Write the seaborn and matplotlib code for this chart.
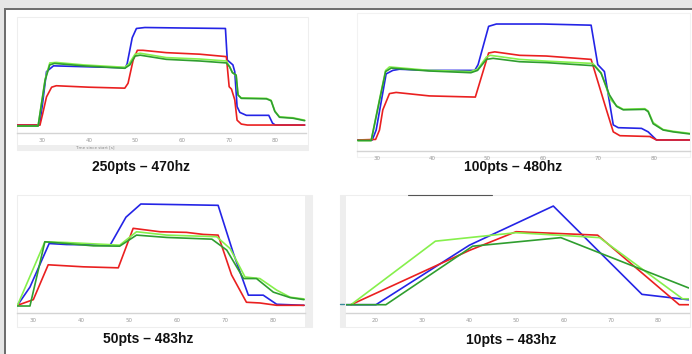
import matplotlib
matplotlib.use("Agg")
import matplotlib.pyplot as plt
from matplotlib.patches import Rectangle
import pandas as pd
import seaborn as sns

sns.set_style("white")

# series: (time [s], level)
p1_blue = [(24.6, 0), (29.4, 0), (30.0, 20), (30.9, 55), (32.4, 61), (40, 60), (47.8, 59), (48.2, 63), (49.3, 90),
           (50.2, 99.5), (52, 100.5), (60, 100), (69.3, 99.5), (69.7, 67), (70.9, 62), (71.3, 55), (71.8, 19),
           (72.4, 13), (73.8, 10), (78.6, 10), (79.4, 2), (80, 0), (86.3, 0)]
p1_red = [(24.6, 0), (29.5, 0), (30.1, 12), (30.9, 29), (32.0, 39), (33, 40.5), (40, 39), (47.7, 38), (48.4, 43),
          (49.5, 67), (50.4, 77), (51.6, 77), (56.6, 74.6), (63.8, 73), (69.5, 70.5), (70.1, 39.5), (70.6, 37),
          (71.3, 26), (71.8, 5), (72.7, 1), (74, 0), (86.3, 0)]
p1_lgreen = [(24.6, -1), (29.1, -1), (30.6, 47), (31.6, 64), (33, 64.5), (38.8, 62), (47.7, 59.5), (48.6, 63),
             (49.9, 73), (51, 74), (56.6, 69.5), (63.8, 68), (69.5, 66), (70.2, 60), (70.8, 54), (71.6, 51),
             (72, 31), (72.7, 28), (78.1, 27.5), (79.1, 25.5), (79.9, 14.5), (80.9, 8.5), (83.8, 7.5), (86.3, 5)]
p1_dgreen = [(24.6, -1), (29.1, -1), (30.6, 46), (31.6, 62), (32.6, 63.5), (38.8, 61), (47.7, 58.5), (48.8, 62),
             (49.9, 71), (51, 72), (56.6, 67.7), (63.8, 66), (69.5, 64), (70.2, 60), (70.8, 54), (71.6, 51.5),
             (72, 31), (72.7, 27.5), (78.1, 27), (79.1, 25), (79.9, 14), (80.9, 8), (83.8, 7), (86.3, 4.5)]

p2_blue = [(26.6, 0), (29.2, 0), (29.9, 8.6), (31.7, 57), (32.9, 60), (34.1, 61), (39.5, 60), (47.7, 60), (48.3, 65),
           (50.2, 98), (51.6, 100), (60, 100), (68.7, 99), (69.9, 65), (71.1, 59), (72.7, 13), (73.6, 10.6),
           (77.8, 10), (79, 7), (80.5, 0), (86.5, 0)]
p2_red = [(26.6, 0), (29.8, 0.5), (30.5, 8.6), (31.1, 26), (32.3, 40), (33.5, 41), (39.5, 38), (47.8, 37),
          (50.2, 75), (51.3, 76), (55.8, 73), (60.6, 72.4), (68.7, 69.5), (71.4, 27), (72.7, 7), (73.9, 3.7),
          (79.3, 3), (80.5, 0), (86.5, 0)]
p2_lgreen = [(26.6, -0.5), (29, -0.5), (30.5, 35), (31.6, 60), (32.3, 63), (39.5, 60), (47, 59), (48.2, 61),
             (49.8, 71.5), (50.5, 73), (55.8, 69.5), (60.6, 68), (69, 66), (70.5, 58), (72.2, 35), (73.3, 29.5),
             (74.5, 26.5), (78.4, 27), (79, 25), (79.9, 15), (81.7, 9), (83.5, 7.5), (86.5, 5.7)]
p2_dgreen = [(26.6, -0.5), (29, -0.5), (30.5, 34), (31.6, 59), (32.6, 62), (39.5, 59.5), (47, 58), (48.2, 60),
             (49.8, 69.5), (51, 70.4), (55.8, 67.5), (60.6, 66.7), (69.3, 64), (70.5, 57.5), (72, 39), (73.3, 29),
             (74.5, 26), (78.4, 26.4), (79, 24.4), (79.9, 14), (81.7, 8.6), (83.5, 7), (86.5, 5.2)]

p3_blue = [(26.7, 0), (29.3, 18), (33.3, 61), (36.9, 60), (46, 59.4), (49.3, 87), (52.4, 100), (61.3, 99.3),
           (68.5, 98.7), (71.7, 51), (74.8, 10), (77.9, 10), (80.7, 1), (86.4, 0)]
p3_red = [(26.7, 0), (30, 5.6), (33.1, 40), (40.4, 38), (47.7, 37), (50.8, 76), (56.4, 72.6), (61.9, 72),
          (65.4, 70), (68.5, 69.3), (71.3, 30), (74.4, 3), (77.2, 2.3), (80.7, 0), (86.4, 0)]
p3_lgreen = [(26.7, 0), (32.4, 62.7), (36.9, 62), (48, 59.4), (51.5, 72.6), (57.8, 69.3), (68.2, 67.7), (71, 56),
             (74.1, 28), (77.2, 26.4), (80.7, 15), (83.5, 8), (86.4, 6.3)]
p3_dgreen = [(26.7, -0.7), (29.3, -0.7), (32.4, 62.7), (36.9, 61), (42.5, 58.7), (48, 58.4), (51.5, 69.3),
             (57.8, 67), (67.2, 65.3), (70.3, 54.5), (73.8, 26.4), (76.5, 26.4), (80, 13), (83.5, 7.6), (86.4, 5.6)]

p4_blue = [(13.9, 0), (20.2, 0), (40, 60.3), (57.8, 100), (76.6, 10.5), (86.5, 5)]
p4_red = [(14.9, 0), (40, 55), (49.9, 74), (67.2, 70.5), (84.5, 0), (86.5, 0)]
p4_lgreen = [(14.9, 0), (32.8, 64.4), (49.9, 73), (67.6, 68), (85.2, 6), (86.5, 6)]
p4_dgreen = [(13.9, 0), (22.3, 0), (40.7, 59.3), (59.4, 68), (86.5, 17)]

captions = ["250pts \u2013 470hz", "100pts \u2013 480hz", "50pts \u2013 483hz", "10pts \u2013 483hz"]
ticks_top = [30, 40, 50, 60, 70, 80]
ticks_p4 = [20, 30, 40, 50, 60, 70, 80]

colors = {"blue": "#2424e6", "red": "#ea2020", "lgreen": "#86f04c", "dgreen": "#2f9e2f"}

W, H = 692, 354
fig = plt.figure(figsize=(W / 100, H / 100), dpi=100)
fig.patch.set_facecolor("white")


def box(x0, y0, x1, y1):
    return [x0 / W, 1 - y1 / H, (x1 - x0) / W, (y1 - y0) / H]


# background: screenshot frame and panel borders (pixel coordinates)
bg = fig.add_axes([0, 0, 1, 1], zorder=0)
bg.set_xlim(0, W)
bg.set_ylim(H, 0)
bg.axis("off")
bg.add_patch(Rectangle((0, 0), W, 8, color="#e6e6e6", lw=0))
bg.add_patch(Rectangle((0, 0), 4, H, color="#e6e6e6", lw=0))
bg.add_patch(Rectangle((4, 8), W, 2, color="#6e6e6e", lw=0))
bg.add_patch(Rectangle((4, 8), 2, H, color="#6e6e6e", lw=0))
bg.add_patch(Rectangle((17, 17), 291, 133, fc="white", ec="#eeeeee", lw=0.8))
bg.add_patch(Rectangle((17, 145), 291, 5, color="#eeeeee", lw=0))
bg.text(75, 147.5, "Time since start [s]", fontsize=3, color="#888888", va="center")
bg.add_patch(Rectangle((357, 13), 333, 144, fc="white", ec="#f2f2f2", lw=0.8))
bg.add_patch(Rectangle((17, 195), 295, 132, fc="white", ec="#eeeeee", lw=0.8))
bg.add_patch(Rectangle((305, 195), 7, 132, color="#eeeeee", lw=0))
bg.add_patch(Rectangle((340, 195), 350, 132, fc="white", ec="#eeeeee", lw=0.8))
bg.add_patch(Rectangle((340, 195), 6, 132, color="#eeeeee", lw=0))
bg.plot([408, 492], [195, 195], color="#555555", lw=0.8)
bg.plot([340, 344], [304, 304], color="#3a8a9a", lw=1)

# panel layout: pixel box, xlim, ylim, ticks, caption position
panels = [
    ((17, 18, 306, 133), (24.57, 86.59), (-8.2, 110.3), ticks_top, (141, 167),
     [p1_blue, p1_red, p1_lgreen, p1_dgreen]),
    ((357, 13, 690, 151), (26.44, 86.55), (-9.5, 109.5), ticks_top, (513, 167),
     [p2_blue, p2_red, p2_lgreen, p2_dgreen]),
    ((17, 195, 305, 313), (26.6, 86.6), (-7.6, 108.9), ticks_top, (148, 339),
     [p3_blue, p3_red, p3_lgreen, p3_dgreen]),
    ((346, 195, 689, 313), (13.85, 86.57), (-8.4, 111.2), ticks_p4, (511, 340),
     [p4_blue, p4_red, p4_lgreen, p4_dgreen]),
]

for (pxbox, xlim, ylim, ticks, cap_xy, series), cap in zip(panels, captions):
    ax = fig.add_axes(box(*pxbox), zorder=2)
    ax.patch.set_alpha(0)
    for name, pts in zip(["blue", "red", "lgreen", "dgreen"], series):
        df = pd.DataFrame(pts, columns=["t", "v"])
        sns.lineplot(data=df, x="t", y="v", ax=ax, sort=False, estimator=None,
                     color=colors[name], linewidth=1.2)
    ax.set_xlim(*xlim)
    ax.set_ylim(*ylim)
    ax.set_xticks(ticks)
    ax.set_yticks([])
    ax.set_xlabel("")
    ax.set_ylabel("")
    for s in ["top", "left", "right"]:
        ax.spines[s].set_visible(False)
    ax.spines["bottom"].set_color("#d4d4d4")
    ax.spines["bottom"].set_linewidth(1.0)
    ax.tick_params(axis="x", length=2, width=0.5, color="#cccccc", labelsize=4,
                   labelcolor="#999999", pad=1.5)
    bg.text(cap_xy[0], cap_xy[1], cap, ha="center", va="center", fontsize=10,
            fontweight="bold", family=["Liberation Sans", "DejaVu Sans"], color="#111111")

fig.savefig("out.png", dpi=100)
